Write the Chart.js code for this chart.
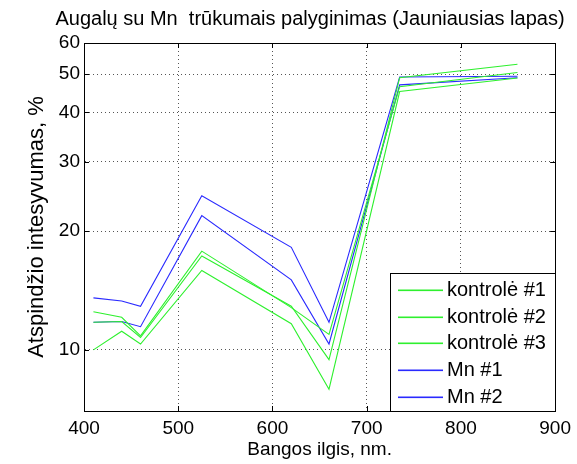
<!DOCTYPE html>
<html>
<head>
<meta charset="utf-8">
<script src="https://cdn.jsdelivr.net/npm/chart.js@4/dist/chart.umd.min.js"></script>
<style>
  html, body { margin: 0; padding: 0; background: #fff; }
  #wrap { width: 577px; height: 464px; }
</style>
</head>
<body>
<div id="wrap"><canvas id="c" width="577" height="464"></canvas></div>
<script>
// Wavelengths (nm) of the measured bands
const wavelengths = [410, 440, 460, 525, 620, 660, 735, 860];

// Reflectance, % — control plants
const kontrole1 = [12.5, 12.1, 10.85, 17.8, 12.8, 10.95, 46.5, 50.5];
const kontrole2 = [11.75, 11.8, 10.75, 17.3, 12.9, 9.45, 49.0, 53.0];
const kontrole3 = [10.0, 11.15, 10.35, 15.9, 11.65, 7.95, 45.2, 48.9];

// Reflectance, % — Mn-deficient plants
const mn1 = [13.55, 13.3, 12.9, 24.6, 18.2, 11.75, 49.2, 49.4];
const mn2 = [11.75, 11.8, 11.45, 21.9, 15.05, 10.35, 47.0, 49.0];

const seriesLabels = ['kontrolė #1', 'kontrolė #2', 'kontrolė #3', 'Mn #1', 'Mn #2'];

// Axis ticks
const xTicks = [400, 500, 600, 700, 800, 900];
const yTicks = [10, 20, 30, 40, 50, 60];

const chartTitle = 'Augalų su Mn  trūkumais palyginimas (Jauniausias lapas)';
const xTitle = 'Bangos ilgis, nm.';
const yTitle = 'Atspindžio intesyvumas, %';

const FONT = '"Liberation Sans", Arial, Helvetica, sans-serif';
const GREEN = '#2ef02e';
const BLUE = '#2a2aff';

const toPoints = ys => ys.map((y, i) => ({ x: wavelengths[i], y }));

const seriesValues = [kontrole1, kontrole2, kontrole3, mn1, mn2];
const seriesColors = [GREEN, GREEN, GREEN, BLUE, BLUE];

const datasets = seriesValues.map((vals, i) => ({
  label: seriesLabels[i],
  data: toPoints(vals),
  borderColor: seriesColors[i],
  backgroundColor: seriesColors[i],
  borderWidth: 1.1,
  pointRadius: 0,
  tension: 0,
  fill: false
}));

// Title above the axes box
const titlePlugin = {
  id: 'plotTitle',
  afterDraw(chart) {
    const ctx = chart.ctx;
    ctx.save();
    ctx.font = '20px ' + FONT;
    ctx.fillStyle = '#000';
    ctx.textAlign = 'center';
    ctx.textBaseline = 'middle';
    ctx.fillText(chartTitle, 310, 19);
    ctx.restore();
  }
};

// Closed axes frame with inward tick marks on all four sides
const framePlugin = {
  id: 'axesFrame',
  afterDatasetsDraw(chart) {
    const { ctx, chartArea: a, scales } = chart;
    const tl = 5;
    ctx.save();
    ctx.strokeStyle = '#000';
    ctx.lineWidth = 1;
    ctx.beginPath();
    xTicks.forEach(v => {
      const px = Math.round(scales.x.getPixelForValue(v)) + 0.5;
      ctx.moveTo(px, a.bottom); ctx.lineTo(px, a.bottom - tl);
      ctx.moveTo(px, a.top); ctx.lineTo(px, a.top + tl);
    });
    yTicks.forEach(v => {
      const py = Math.round(scales.y.getPixelForValue(v)) + 0.5;
      ctx.moveTo(a.left, py); ctx.lineTo(a.left + tl, py);
      ctx.moveTo(a.right, py); ctx.lineTo(a.right - tl, py);
    });
    ctx.stroke();
    ctx.strokeRect(Math.round(a.left) + 0.5, Math.round(a.top) + 0.5,
                   Math.round(a.right - a.left), Math.round(a.bottom - a.top));
    ctx.restore();
  }
};

// Boxed legend in the lower-right corner of the axes
const legendPlugin = {
  id: 'boxLegend',
  afterDraw(chart) {
    const { ctx, chartArea: a } = chart;
    const w = 165, rowH = 26.7;
    const h = 138;
    const x0 = Math.round(a.right) - w, y0 = Math.round(a.bottom) - h;
    ctx.save();
    ctx.fillStyle = '#fff';
    ctx.fillRect(x0, y0, w, h);
    ctx.strokeStyle = '#000';
    ctx.lineWidth = 1;
    ctx.strokeRect(x0 + 0.5, y0 + 0.5, w, h);
    ctx.font = '20px ' + FONT;
    ctx.textAlign = 'left';
    ctx.textBaseline = 'middle';
    chart.data.datasets.forEach((ds, i) => {
      const yy = Math.round(y0 + 17 + i * rowH);
      ctx.fillStyle = ds.borderColor;
      ctx.fillRect(x0 + 8, yy - 0.5, 45, 1.6);
      ctx.fillStyle = '#000';
      ctx.fillText(ds.label, x0 + 57, yy);
    });
    ctx.restore();
  }
};

new Chart(document.getElementById('c'), {
  type: 'line',
  data: { datasets },
  options: {
    responsive: false,
    animation: false,
    devicePixelRatio: 1,
    layout: { padding: { left: 0, right: 20, top: 43, bottom: 0 } },
    plugins: {
      legend: { display: false },
      title: { display: false },
      tooltip: { enabled: false }
    },
    scales: {
      x: {
        type: 'linear',
        min: 400,
        max: 900,
        afterBuildTicks: s => { s.ticks = xTicks.map(v => ({ value: v })); },
        afterFit: s => { s.height = 53; },
        grid: { color: '#555', lineWidth: 1, drawTicks: false },
        border: { display: true, color: '#000', dash: [1, 3] },
        ticks: {
          autoSkip: false,
          maxRotation: 0,
          padding: 6,
          color: '#000',
          font: { family: FONT, size: 19 },
          callback: v => String(v)
        },
        title: {
          display: true,
          text: xTitle,
          color: '#000',
          font: { family: FONT, size: 19 },
          padding: { top: 0, bottom: 3 }
        }
      },
      y: {
        type: 'logarithmic',
        min: 7,
        max: 60,
        afterBuildTicks: s => { s.ticks = yTicks.map(v => ({ value: v })); },
        afterFit: s => { s.width = 84; },
        grid: { color: '#555', lineWidth: 1, drawTicks: false },
        border: { display: true, color: '#000', dash: [1, 3] },
        ticks: {
          padding: 4,
          color: '#000',
          font: { family: FONT, size: 19 },
          callback: v => String(v)
        },
        title: {
          display: true,
          text: yTitle,
          color: '#000',
          font: { family: FONT, size: 22 },
          padding: { top: 24, bottom: 0 }
        }
      }
    }
  },
  plugins: [framePlugin, legendPlugin, titlePlugin]
});
</script>
</body>
</html>
